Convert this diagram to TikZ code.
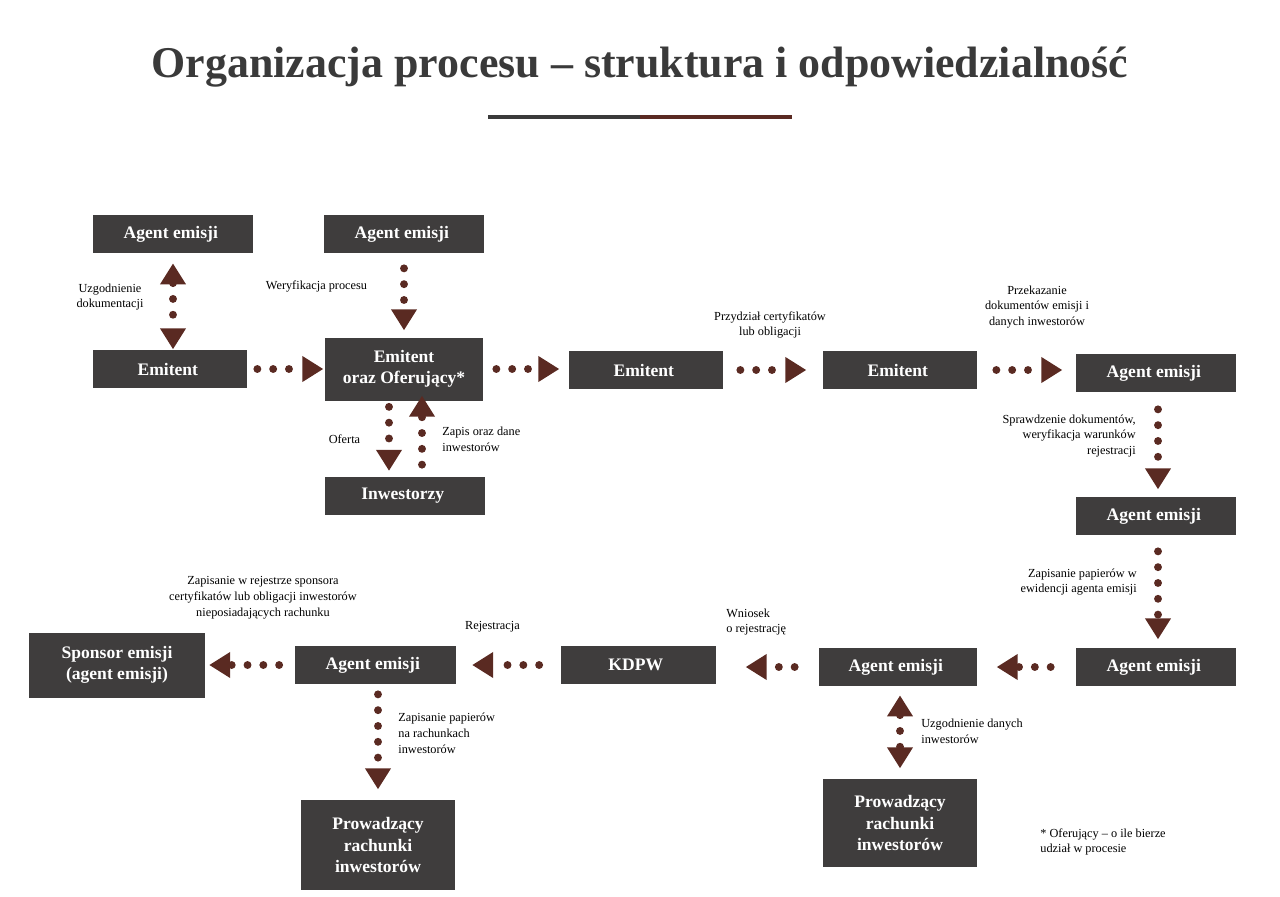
\documentclass[tikz,border=0pt]{standalone}
\usepackage{fontspec}
\setmainfont{Liberation Serif}
\usetikzlibrary{arrows.meta}
\definecolor{boxgray}{HTML}{3F3D3D}
\definecolor{arrowbrown}{HTML}{5A2A22}
\definecolor{titlegray}{HTML}{3A3A3A}
\tikzset{
	box/.style = { fill=boxgray, text=white, font=\bfseries\fontsize{10}{12}\selectfont,
		minimum width=154*0.02cm, minimum height=38*0.02cm, align=center, inner sep=0pt },
	flow/.style = { draw=arrowbrown, line width=4.5pt, line cap=round, dash pattern=on 0pt off 9pt,
		-{Triangle[width=14pt,length=12pt,fill=arrowbrown]} },
	both/.style = { flow, {Triangle[width=14pt,length=12pt,fill=arrowbrown]}-{Triangle[width=14pt,length=12pt,fill=arrowbrown]} },
	note/.style = { font=\fontsize{7}{9}\selectfont, align=center, inner sep=0pt }
}
\begin{document}
\begin{tikzpicture}[x=0.02cm, y=-0.02cm]
	\useasboundingbox (0,0) rectangle (1280,896);
	% title
	\node (title) [font=\bfseries\fontsize{25}{30}\selectfont, text=titlegray] at (640,67) {Organizacja procesu -- struktura i odpowiedzialność};
	\coordinate (barl) at (488,117); \coordinate (barm) at (640,117); \coordinate (barr) at (792,117);
	\draw [titlegray, line width=2.2pt] (barl) -- (barm);
	\draw [arrowbrown, line width=2.2pt] (barm) -- (barr);
	% boxes
	\node (ag1) [box, minimum width=160*0.02cm] at (173,234) { Agent emisji };
	\node (ag2) [box, minimum width=160*0.02cm] at (404,234) { Agent emisji };
	\node (em1) [box] at (170,369) { Emitent };
	\node (emof) [box, minimum width=158*0.02cm, minimum height=63*0.02cm] at (404,369) { Emitent\\oraz Oferujący* };
	\node (inw) [box, minimum width=160*0.02cm] at (405,496) { Inwestorzy };
	\node (em2) [box] at (646,370) { Emitent };
	\node (em3) [box] at (900,370) { Emitent };
	\node (ag3) [box, minimum width=160*0.02cm] at (1156,373) { Agent emisji };
	\node (ag4) [box, minimum width=160*0.02cm] at (1156,516) { Agent emisji };
	\node (ag5) [box, minimum width=160*0.02cm] at (1156,667) { Agent emisji };
	\node (ag6) [box, minimum width=158*0.02cm] at (898,667) { Agent emisji };
	\node (kdpw) [box, minimum width=155*0.02cm] at (638,665) { KDPW };
	\node (ag7) [box, minimum width=161*0.02cm] at (375,665) { Agent emisji };
	\node (spons) [box, minimum width=176*0.02cm, minimum height=65*0.02cm] at (117,665) { Sponsor emisji\\(agent emisji) };
	\node (prow1) [box, minimum height=90*0.02cm] at (378,845) { Prowadzący\\rachunki\\inwestorów };
	\node (prow2) [box, minimum height=88*0.02cm] at (900,823) { Prowadzący\\rachunki\\inwestorów };
	% connectors
	\draw [both] (ag1.south) ++(0,10) -- ++(0,86);
	\draw [flow] (ag2.south) ++(0,15) -- ++(0,62);
	\draw [flow] (em1.east) ++(10,0) -- ++(66,0);
	\draw [flow] (emof.east) ++(13,0) -- ++(63,0);
	\draw [flow] (em2.east) ++(17,0) -- ++(66,0);
	\draw [flow] (em3.east) ++(19,0) -- ++(66,0);
	\draw [flow] ([xshift=-15*0.02cm]emof.south) ++(0,6) -- ++(0,64);
	\draw [flow] ([xshift=17*0.02cm]inw.north) ++(0,-12) -- ++(0,-69);
	\draw [flow] ([xshift=2*0.02cm]ag3.south) ++(0,17) -- ++(0,80);
	\draw [flow] ([xshift=2*0.02cm]ag4.south) ++(0,16) -- ++(0,88);
	\draw [flow] (ag5.west) ++(-25,0) -- ++(-54,0);
	\draw [flow] (ag6.west) ++(-24,0) -- ++(-49,0);
	\draw [flow] (kdpw.west) ++(-21,0) -- ++(-67,0);
	\draw [flow] (ag7.west) ++(-15,0) -- ++(-70,0);
	\draw [flow] ([xshift=3*0.02cm]ag7.south) ++(0,10) -- ++(0,95);
	\draw [both] ([xshift=2*0.02cm]ag6.south) ++(0,9) -- ++(0,73);
	% labels
	\node (l1) [note] at (110,297) { Uzgodnienie\\dokumentacji };
	\node (l2) [note] at (318,286) { Weryfikacja procesu };
	\node (l3) [note] at (346,439) { Oferta };
	\node (l4) [note, anchor=west, align=left] at (442,439) { Zapis oraz dane\\inwestorów };
	\node (l5) [note] at (770,325) { Przydział certyfikatów\\lub obligacji };
	\node (l6) [note] at (1037,307) { Przekazanie\\dokumentów emisji i\\danych inwestorów };
	\node (l7) [note, anchor=east, align=right] at (1136,436) { Sprawdzenie dokumentów,\\weryfikacja warunków\\rejestracji };
	\node (l8) [note, anchor=east, align=right] at (1137,582) { Zapisanie papierów w\\ewidencji agenta emisji };
	\node (l9) [note, anchor=west, align=left] at (726,622) { Wniosek\\o rejestrację };
	\node (l10) [note] at (494,627) { Rejestracja };
	\node (l11) [note] at (263,598) { Zapisanie w rejestrze sponsora\\certyfikatów lub obligacji inwestorów\\nieposiadających rachunku };
	\node (l12) [note, anchor=west, align=left] at (398,733) { Zapisanie papierów\\na rachunkach\\inwestorów };
	\node (l13) [note, anchor=west, align=left] at (921,731) { Uzgodnienie danych\\inwestorów };
	\node (foot) [note, anchor=west, align=left] at (1040,842) { * Oferujący -- o ile bierze\\udział w procesie };
\end{tikzpicture}
\end{document}
